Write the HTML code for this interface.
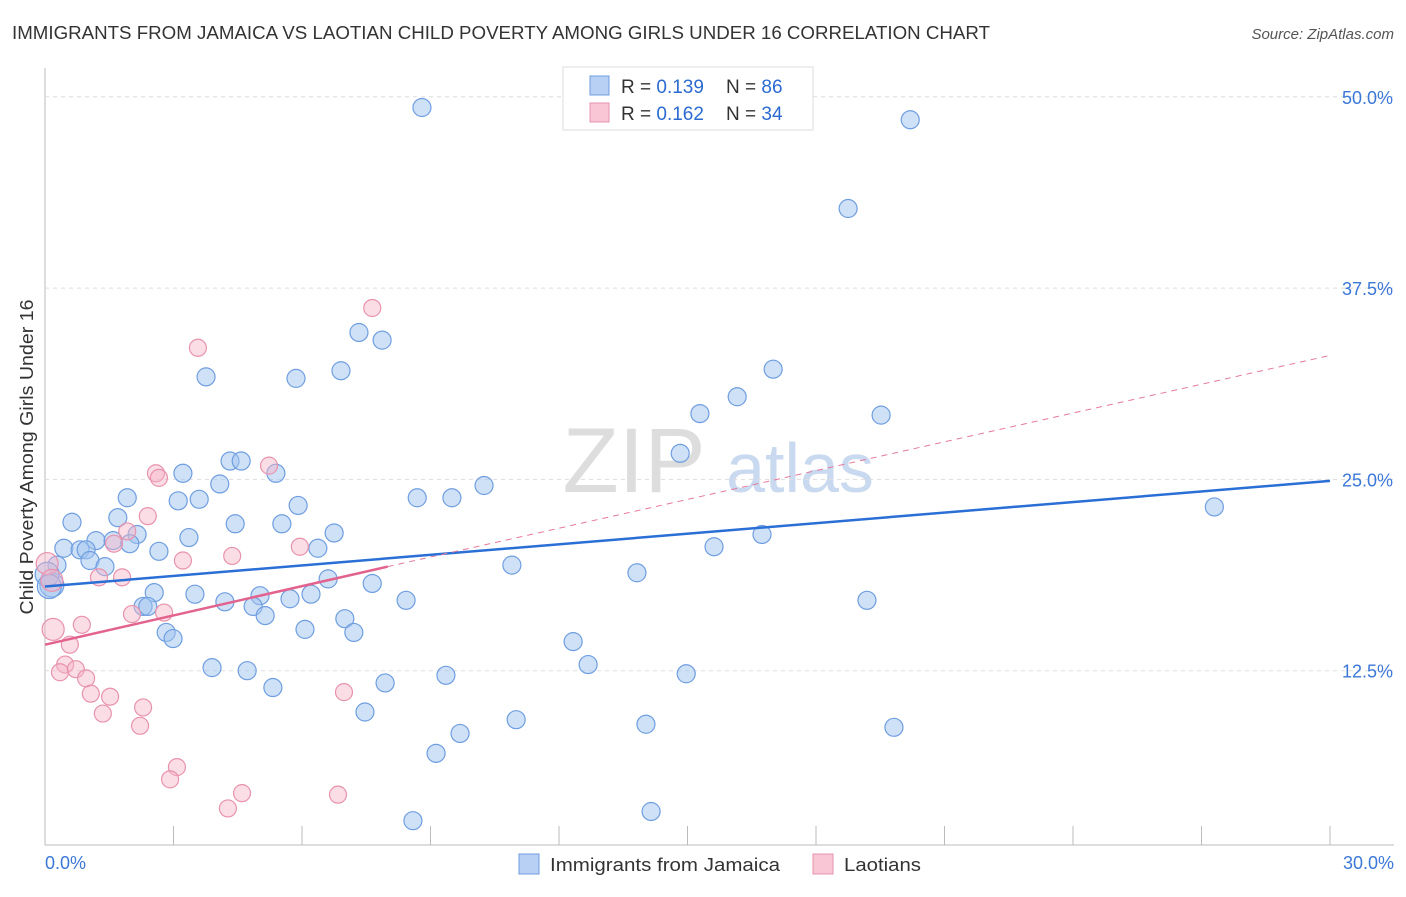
<!DOCTYPE html>
<html><head><meta charset="utf-8"><style>
body{margin:0;background:#fff;font-family:"Liberation Sans",sans-serif}
svg text{font-family:"Liberation Sans",sans-serif}
</style></head><body>
<svg id="c" width="1406" height="892">
<text x="12" y="39" font-size="18" fill="#333" textLength="978" lengthAdjust="spacingAndGlyphs">IMMIGRANTS FROM JAMAICA VS LAOTIAN CHILD POVERTY AMONG GIRLS UNDER 16 CORRELATION CHART</text>
<text x="1394" y="39" font-size="15" fill="#555" text-anchor="end" font-style="italic">Source: ZipAtlas.com</text>
<text x="634" y="492" font-size="92" fill="#ddd" text-anchor="middle" font-family="Liberation Serif">ZIP</text>
<text x="800" y="492" font-size="70" fill="#c9d9ef" text-anchor="middle">atlas</text>
<g id="grid"></g><g id="pts"></g><g id="lines"></g>
<text transform="translate(33,457) rotate(-90)" font-size="18" fill="#333" text-anchor="middle" textLength="315" lengthAdjust="spacingAndGlyphs">Child Poverty Among Girls Under 16</text>
<g>
<rect x="563" y="67" width="250" height="63" fill="#fff" stroke="#ddd"/>
<rect x="590" y="76" width="19" height="19" fill="#b7d0f3" stroke="#6f9ee0"/>
<rect x="590" y="103" width="19" height="19" fill="#f8c6d5" stroke="#e893ad"/>
<text x="621" y="93" font-size="19" fill="#333">R = <tspan fill="#2b6bd1">0.139</tspan></text>
<text x="726" y="93" font-size="19" fill="#333">N = <tspan fill="#2b6bd1">86</tspan></text>
<text x="621" y="120" font-size="19" fill="#333">R = <tspan fill="#2b6bd1">0.162</tspan></text>
<text x="726" y="120" font-size="19" fill="#333">N = <tspan fill="#2b6bd1">34</tspan></text>
</g>
<g>
<rect x="519" y="854" width="20" height="20" fill="#b7d0f3" stroke="#6f9ee0"/>
<text x="550" y="871" font-size="18" fill="#333" textLength="230" lengthAdjust="spacingAndGlyphs">Immigrants from Jamaica</text>
<rect x="813" y="854" width="20" height="20" fill="#f8c6d5" stroke="#e893ad"/>
<text x="844" y="871" font-size="18" fill="#333" textLength="77" lengthAdjust="spacingAndGlyphs">Laotians</text>
</g>
</svg>
<script>
const yTicks=[12.5,25,37.5,50];
const yTickLabels=["12.5%","25.0%","37.5%","50.0%"];
const xEndLabels=["0.0%","30.0%"];
const blueX=[8.80,20.2,18.75,7.33,7.87,3.76,5.86,6.91,17.0,16.16,15.29,19.52,14.83,4.32,4.58,3.22,5.39,4.08,10.25,1.92,3.11,3.6,8.69,9.5,5.91,27.3,0.63,1.70,4.44,5.53,6.75,16.74,2.15,1.19,1.59,1.98,3.36,0.44,0.82,0.96,2.66,6.37,15.62,1.05,1.4,0.28,10.9,13.82,6.61,7.64,0.16,2.55,3.5,5.02,5.72,6.21,8.43,19.19,4.2,2.29,2.4,4.86,5.14,7.0,6.07,2.83,2.99,7.21,12.33,12.68,3.9,4.72,9.36,14.97,7.94,5.32,7.47,11.0,14.03,19.82,9.69,9.13,14.15,8.59,0.05,0.1];
const blueY=[49.3,48.5,42.7,34.6,34.1,31.7,31.6,32.1,32.2,30.4,29.3,29.2,26.7,26.2,26.2,25.4,25.4,24.7,24.6,23.8,23.6,23.7,23.8,23.8,23.3,23.2,22.2,22.5,22.1,22.1,21.5,21.4,21.4,21.0,21.0,20.8,21.2,20.5,20.4,20.4,20.3,20.5,20.6,19.7,19.3,19.4,19.4,18.9,18.5,18.2,18.1,17.6,17.5,17.4,17.2,17.5,17.1,17.1,17.0,16.7,16.7,16.7,16.1,15.9,15.2,15.0,14.6,15.0,14.4,12.9,12.7,12.5,12.2,12.3,11.7,11.4,9.8,9.3,9.0,8.8,8.4,7.1,3.3,2.7,18.8,18.0];
const pinkX=[7.64,3.57,5.23,2.59,2.66,2.4,1.92,1.61,5.95,4.37,3.22,0.05,0.16,1.8,1.26,2.03,2.78,0.86,0.19,0.58,0.47,0.35,0.72,0.96,1.07,1.52,6.98,2.29,1.35,2.22,3.08,2.92,4.6,4.27,6.84];
const pinkY=[36.2,33.6,25.9,25.4,25.1,22.6,21.6,20.8,20.6,20.0,19.7,19.5,18.4,18.6,18.6,16.2,16.3,15.5,15.2,14.2,12.9,12.4,12.6,12.0,11.0,10.8,11.1,10.1,9.7,8.9,6.2,5.4,4.5,3.5,4.4];
const blueFit=[18.0,24.9];
const pinkFit=[14.2,19.3,33.1];
const pinkSolidEnd=8.0;
const X=v=>45+v/30*1285, Y=v=>862-v*15.304;
const NS="http://www.w3.org/2000/svg";
function mk(p,t,a){const e=document.createElementNS(NS,t);for(const k in a)e.setAttribute(k,a[k]);document.getElementById(p).appendChild(e);return e;}
let e=mk("grid","line",{x1:45,y1:68,x2:45,y2:845,stroke:"#bbb"});


e=mk("grid","line",{x1:45,y1:845,x2:1394,y2:845,stroke:"#bbb"});


for(let i=1;i<=10;i++){e=mk("grid","line",{x1:X(i*3),y1:826,x2:X(i*3),y2:845,stroke:"#bbb"});

}
yTicks.forEach((t,i)=>{e=mk("grid","line",{x1:45,y1:Y(t),x2:1394,y2:Y(t),stroke:"#ddd","stroke-dasharray":"4,4"});


e=mk("grid","text",{x:1393,y:Y(t)+7,"font-size":18,fill:"#3b78d8","text-anchor":"end"});e.textContent=yTickLabels[i];

});
e=mk("grid","text",{x:45,y:869,"font-size":18,fill:"#3b78d8"});e.textContent=xEndLabels[0];


e=mk("grid","text",{x:1394,y:869,"font-size":18,fill:"#3b78d8","text-anchor":"end"});e.textContent=xEndLabels[1];


blueX.forEach((x,i)=>{e=mk("pts","circle",{cx:X(x),cy:Y(blueY[i]),r:x<0.2?12:9,fill:"rgba(160,195,240,0.5)",stroke:"#6f9ee0","stroke-width":1.2});

});
pinkX.forEach((x,i)=>{e=mk("pts","circle",{cx:X(x),cy:Y(pinkY[i]),r:x<0.2?11:8.5,fill:"rgba(246,180,200,0.45)",stroke:"#e893ad","stroke-width":1.2});

});
e=mk("lines","line",{x1:X(0),y1:Y(blueFit[0]),x2:X(30),y2:Y(blueFit[1]),stroke:"#2a6fd6","stroke-width":2.5});


e=mk("lines","line",{x1:X(pinkSolidEnd),y1:Y(pinkFit[1]),x2:X(30),y2:Y(pinkFit[2]),stroke:"#e57a9c","stroke-width":1,"stroke-dasharray":"6,5"});


e=mk("lines","line",{x1:X(0),y1:Y(pinkFit[0]),x2:X(pinkSolidEnd),y2:Y(pinkFit[1]),stroke:"#e2638d","stroke-width":2.5});


</script>
</body></html>
